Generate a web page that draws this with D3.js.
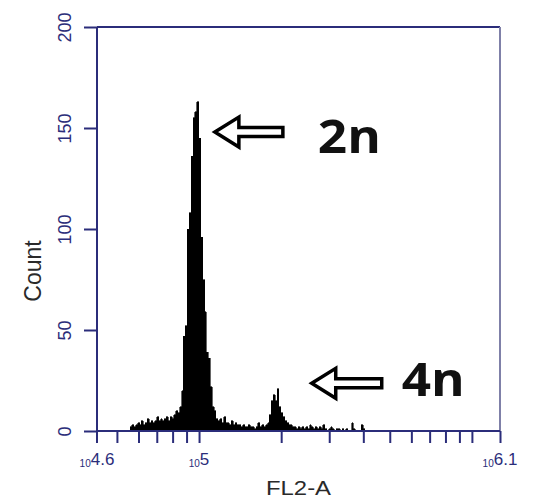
<!DOCTYPE html>
<html>
<head>
<meta charset="utf-8">
<script src="https://cdn.jsdelivr.net/npm/d3@7"></script>
<style>
  html, body { margin: 0; padding: 0; background: #fff; }
  svg { display: block; }
</style>
</head>
<body>
<svg id="chart" width="543" height="501"></svg>
<script>
// ---------------- data ----------------
const xDomainExp = [4.626, 6.103];           // log10 range of FL2-A axis
const yDomain = [0, 200];
const yTicks = [0, 50, 100, 150, 200];
const xLabelTicksExp = [4.626, 5, 6.103];
const xLabelText = ["4.6", "5", "6.1"];
const xMinorTicks = [5e4, 6e4, 7e4, 8e4, 9e4, 1e5, 2e5, 3e5, 4e5, 5e5, 6e5, 7e5, 8e5, 9e5, 1e6];
const binStartExp = 4.74;
const binWidthExp = 0.007;
const counts = [
  0, 2, 3, 2, 3, 4, 3, 5, 3, 4,
  6, 4, 5, 4, 5, 7, 5, 6, 5, 6,
  7, 5, 7, 6, 8, 10, 9, 12, 20, 47,
  52, 100, 108, 136, 155, 158, 163, 145, 96, 75,
  59, 39, 36, 22, 12, 10, 6, 5, 6, 4,
  7, 4, 4, 3, 5, 3, 4, 3, 3, 2,
  3, 2, 2, 3, 2, 2, 1, 2, 4, 2,
  3, 2, 3, 4, 8, 15, 18, 15, 21, 12,
  9, 7, 5, 4, 3, 3, 2, 2, 1, 2,
  1, 2, 1, 2, 1, 3, 2, 1, 2, 1,
  2, 1, 3, 1, 0, 1, 2, 1, 0, 1,
  1, 0, 1, 0, 1, 0, 0, 4, 1, 0,
  0, 0, 3, 1, 0
];
const annotations = [
  { label: "2n", tipExp: 5.058, tipCount: 148 },
  { label: "4n", tipExp: 5.413, tipCount: 23.6 }
];
const xTitle = "FL2-A";
const yTitle = "Count";

// ---------------- layout ----------------
const svg = d3.select("#chart");
const L = 97, R = 500, T = 27, B = 431;
const navy = "#2b2d7a";

const x = d3.scaleLog().domain(xDomainExp.map(e => Math.pow(10, e))).range([L, R]);
const y = d3.scaleLinear().domain(yDomain).range([B, T]);

// histogram
const bins = counts.map((c, i) => ({ v: Math.pow(10, binStartExp + i * binWidthExp), c }));
bins.push({ v: Math.pow(10, binStartExp + counts.length * binWidthExp), c: 0 });
const area = d3.area()
  .x(d => x(d.v))
  .y0(y(0))
  .y1(d => y(d.c))
  .curve(d3.curveStepAfter);
svg.append("path").datum(bins).attr("d", area)
  .attr("fill", "#000").attr("stroke", "#000").attr("stroke-width", 0.6)
  .attr("shape-rendering", "crispEdges");

// frame (top and right)
svg.append("line").attr("x1", L).attr("x2", R).attr("y1", T).attr("y2", T)
  .attr("stroke", navy).attr("stroke-width", 2);
svg.append("line").attr("x1", R).attr("x2", R).attr("y1", T).attr("y2", B)
  .attr("stroke", "#7f80a8").attr("stroke-width", 2);

// y axis
const yAxis = d3.axisLeft(y).tickValues(yTicks).tickSize(13).tickFormat(d3.format("d"));
const gy = svg.append("g").attr("transform", `translate(${L},0)`).call(yAxis);
gy.select(".domain").attr("stroke", navy).attr("stroke-width", 2)
  .attr("d", `M0,${T}V${B + 12}`);
gy.selectAll(".tick line").attr("stroke", navy).attr("stroke-width", 2);
gy.selectAll(".tick text").remove();
gy.selectAll(".tick").append("text")
  .attr("transform", "translate(-32,0) rotate(-90)")
  .attr("text-anchor", "middle")
  .attr("dy", "0.35em")
  .attr("fill", navy)
  .style("font-family", "'Liberation Sans', Arial, sans-serif")
  .style("font-size", "18px")
  .text(d => d);

// x axis
const xAxis = d3.axisBottom(x).tickValues(xMinorTicks.concat([Math.pow(10, xDomainExp[1])]))
  .tickSize(12).tickFormat("");
const gx = svg.append("g").attr("transform", `translate(0,${B})`).call(xAxis);
gx.select(".domain").attr("stroke", navy).attr("stroke-width", 2).attr("d", `M${L},0H${R}`);
gx.selectAll(".tick line").attr("stroke", navy).attr("stroke-width", 2);

// x tick labels (10^e)
xLabelTicksExp.forEach((e, i) => {
  const t = svg.append("text")
    .attr("x", x(Math.pow(10, e)))
    .attr("y", 467)
    .attr("text-anchor", "middle")
    .attr("fill", navy)
    .style("font-family", "'Liberation Sans', Arial, sans-serif");
  t.append("tspan").style("font-size", "10px").text("10");
  t.append("tspan").style("font-size", "17px").attr("dy", -2).text(xLabelText[i]);
});

// axis titles
svg.append("text")
  .attr("x", (L + R) / 2).attr("y", 495)
  .attr("text-anchor", "middle")
  .attr("fill", "#2a2a2a")
  .attr("textLength", 65).attr("lengthAdjust", "spacingAndGlyphs")
  .style("font-family", "'Liberation Sans', Arial, sans-serif")
  .style("font-size", "21px")
  .text(xTitle);

svg.append("text")
  .attr("transform", `translate(41,${(228 + 330) / 2 - 8}) rotate(-90)`)
  .attr("text-anchor", "middle")
  .attr("fill", "#2a2a2a")
  .style("font-family", "'Liberation Sans', Arial, sans-serif")
  .style("font-size", "23px")
  .text(yTitle);

// annotations: hollow left arrows + labels
const arrowSpecs = [
  { len: 68, textDx: 103, textDy: 21 },
  { len: 70, textDx: 90, textDy: 13 }
];
annotations.forEach((a, i) => {
  const tx = x(Math.pow(10, a.tipExp));
  const ty = y(a.tipCount);
  const s = arrowSpecs[i];
  const hl = 24, hh = 15, sh = 4.5;
  const p = d3.path();
  p.moveTo(tx, ty);
  p.lineTo(tx + hl, ty - hh);
  p.lineTo(tx + hl, ty - sh);
  p.lineTo(tx + s.len, ty - sh);
  p.lineTo(tx + s.len, ty + sh);
  p.lineTo(tx + hl, ty + sh);
  p.lineTo(tx + hl, ty + hh);
  p.closePath();
  svg.append("path").attr("d", p.toString())
    .attr("fill", "#fff").attr("stroke", "#000").attr("stroke-width", 3.5)
    .attr("stroke-linejoin", "miter");
  svg.append("text")
    .attr("x", tx + s.textDx).attr("y", ty + s.textDy)
    .attr("fill", "#111")
    .attr("textLength", 63).attr("lengthAdjust", "spacingAndGlyphs")
    .style("font-family", "'Open Sans', Lato, sans-serif")
    .style("font-weight", "700")
    .style("font-size", "47px")
    .text(a.label);
});
</script>
</body>
</html>
